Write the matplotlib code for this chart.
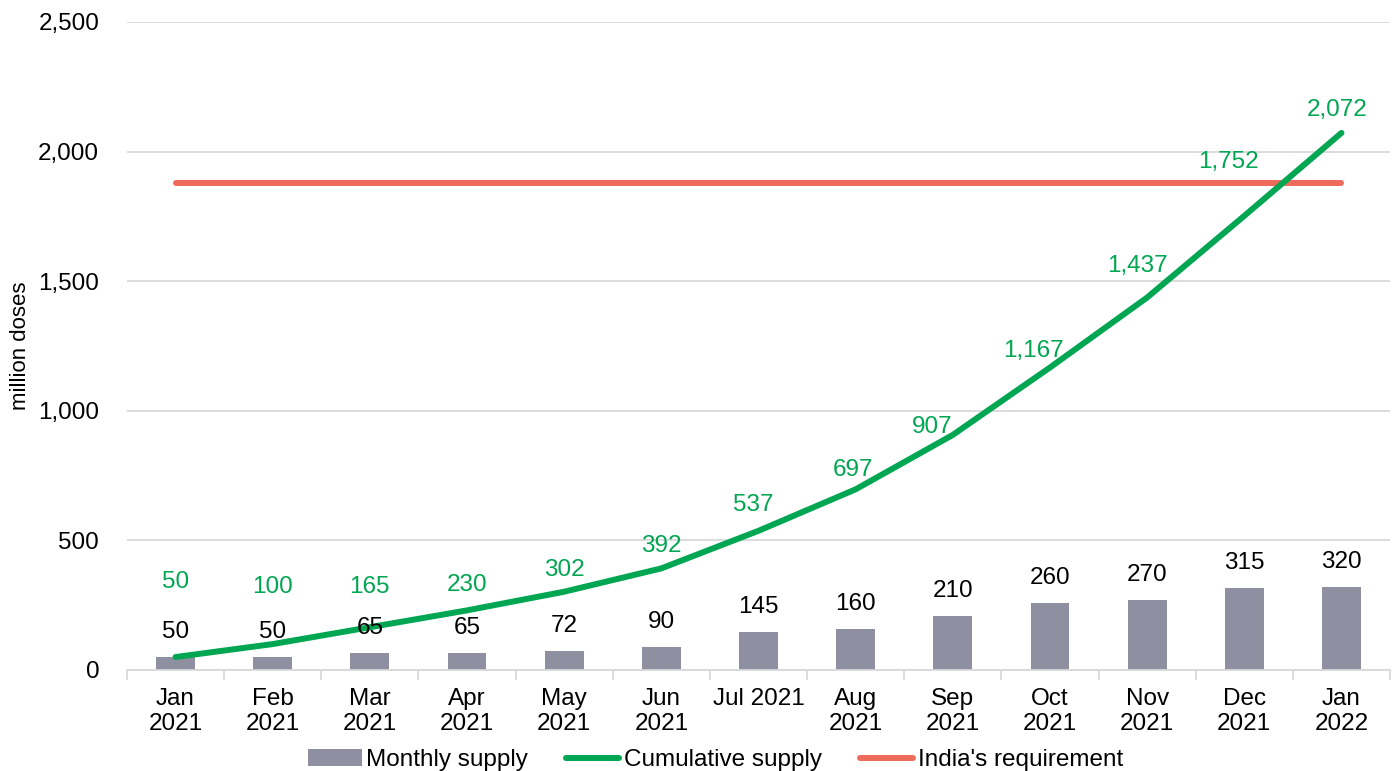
import matplotlib.pyplot as plt
from matplotlib.ticker import FuncFormatter, FixedLocator, NullFormatter

plt.rcParams['font.family'] = ['Liberation Sans', 'DejaVu Sans']

months = ['Jan\n2021', 'Feb\n2021', 'Mar\n2021', 'Apr\n2021', 'May\n2021', 'Jun\n2021',
          'Jul 2021', 'Aug\n2021', 'Sep\n2021', 'Oct\n2021', 'Nov\n2021', 'Dec\n2021', 'Jan\n2022']
monthly = [50, 50, 65, 65, 72, 90, 145, 160, 210, 260, 270, 315, 320]
cumulative = [50, 100, 165, 230, 302, 392, 537, 697, 907, 1167, 1437, 1752, 2072]
requirement = 1880

# label nudges (pixels) for the cumulative labels, roughly as placed in the source
cum_dx = [0, 0, 0, 0, 0, 0, -5, -3, -21, -17, -10, -16, -4]
cum_dy = [75, 57, 40, 25, 22, 22, 26, 19, 8, 17, 32, 54, 23]

bar_col = '#8E8FA1'
green = '#00A651'
red = '#EE6A5B'
fs = 17.5

fig = plt.figure(figsize=(13.98, 7.71), dpi=100)
ax = fig.add_axes([0.0908, 0.131, 0.9035, 0.8405])

x = list(range(len(months)))
ax.bar(x, monthly, width=0.4, color=bar_col, zorder=2, label='Monthly supply')
ax.plot(x, cumulative, color=green, lw=4.3, solid_capstyle='round', zorder=3, label='Cumulative supply')
ax.plot([x[0], x[-1]], [requirement, requirement], color=red, lw=4.3,
        solid_capstyle='round', zorder=2.5, label="India's requirement")

for i, v in enumerate(monthly):
    ax.annotate(f'{v:,}', (i, v), xytext=(0, 25), textcoords='offset pixels',
                ha='center', va='center', fontsize=fs, color='black', zorder=4)
for i, v in enumerate(cumulative):
    ax.annotate(f'{v:,}', (i, v), xytext=(cum_dx[i], cum_dy[i]), textcoords='offset pixels',
                ha='center', va='center', fontsize=fs, color=green, zorder=4)

ax.set_xlim(-0.5, len(months) - 0.5)
ax.set_ylim(0, 2500)
ax.set_yticks(range(0, 2501, 500))
ax.yaxis.set_major_formatter(FuncFormatter(lambda v, p: f'{int(v):,}'))
ax.grid(axis='y', color='#D9D9D9', lw=1.3, zorder=0)
ax.set_axisbelow(True)

ax.set_xticks(x)
ax.set_xticklabels(months, fontsize=fs, linespacing=1.15, va='top')
ax.xaxis.set_minor_locator(FixedLocator([i - 0.5 for i in range(len(months) + 1)]))
ax.xaxis.set_minor_formatter(NullFormatter())
ax.tick_params(axis='x', which='major', length=0, pad=13)
ax.tick_params(axis='x', which='minor', length=7, width=1.3, color='#D9D9D9')
ax.tick_params(axis='y', length=0, pad=20, labelsize=fs)

for s in ['top', 'right', 'left']:
    ax.spines[s].set_visible(False)
ax.spines['bottom'].set_color('#D9D9D9')
ax.spines['bottom'].set_linewidth(1.3)

ax.set_ylabel('million doses', fontsize=16)
ax.yaxis.set_label_coords(-0.076, 0.5)

h, l = ax.get_legend_handles_labels()
order = [2, 0, 1]
fig.legend([h[i] for i in order], [l[i] for i in order], loc='lower center',
           bbox_to_anchor=(0.512, -0.029), ncol=3, frameon=False, fontsize=fs,
           handlelength=2.2, handletextpad=0.2, columnspacing=1.55)

fig.savefig('out.png', dpi=100)
